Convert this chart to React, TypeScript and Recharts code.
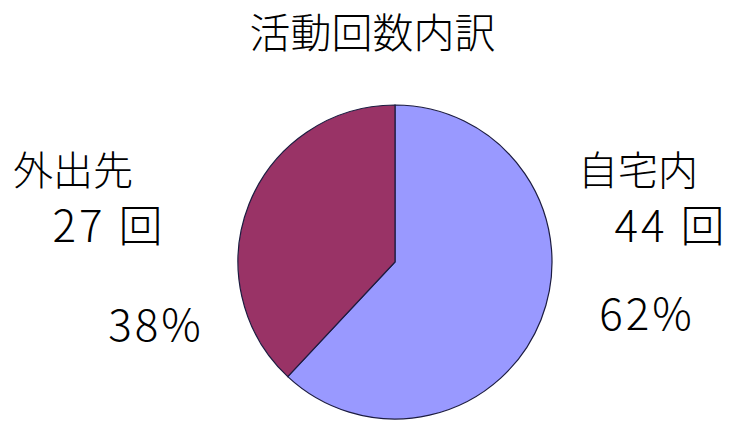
import { PieChart, Pie, Cell } from "recharts";

const title = "活動回数内訳";
const categories = ["自宅内", "外出先"];
const counts = [44, 27];
const unit = "回";
const colors = ["#9999ff", "#993366"];

// label placement relative to pie centre, per slice
const labelLayout = [
  { nameX: 243, countX: 276, pctX: 252, pctY: 49 },
  { nameX: -322, countX: -286, pctX: -239, pctY: 60 },
];

const data = categories.map((name, i) => ({ name, value: counts[i] }));

const font = '"Noto Sans CJK JP", "Noto Sans", sans-serif';

function renderLabel(props: any) {
  const { cx, cy, index, value, percent } = props;
  const l = labelLayout[index];
  return (
    <g fontFamily={font} fill="#000" fontWeight={300}>
      <text x={cx + l.nameX} y={cy - 94} textAnchor="middle" dominantBaseline="central" fontSize={40}>
        {categories[index]}
      </text>
      <text x={cx + l.countX} y={cy - 39} textAnchor="middle" dominantBaseline="central" fontSize={44} letterSpacing={3}>
        {value}{"\u00a0"}{unit}
      </text>
      <text x={cx + l.pctX} y={cy + l.pctY} textAnchor="middle" dominantBaseline="central" fontSize={44} letterSpacing={3}>
        {Math.round(percent * 100)}%
      </text>
    </g>
  );
}

export default function App() {
  return (
    <div style={{ position: "absolute", left: 0, top: 0, width: 740, height: 432, background: "#fff" }}>
      <div
        style={{
          position: "absolute",
          left: 0,
          top: 5,
          width: 745,
          textAlign: "center",
          fontFamily: font,
          fontSize: 41,
          fontWeight: 300,
          lineHeight: "50px",
          color: "#000",
        }}
      >
        {title}
      </div>
      <PieChart width={740} height={432}>
        <Pie
          data={data}
          dataKey="value"
          nameKey="name"
          cx={390}
          cy={257}
          outerRadius={157}
          startAngle={90}
          endAngle={-270}
          stroke="#1c1c40"
          strokeWidth={1.2}
          label={renderLabel}
          labelLine={false}
          isAnimationActive={false}
        >
          {data.map((d, i) => (
            <Cell key={d.name} fill={colors[i]} />
          ))}
        </Pie>
      </PieChart>
    </div>
  );
}
